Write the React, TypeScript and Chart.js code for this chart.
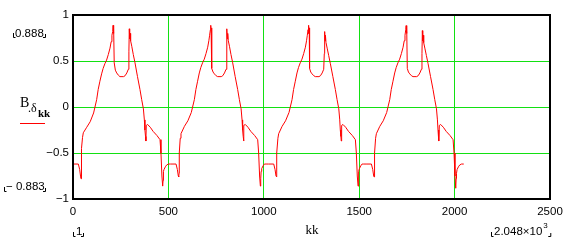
import React, { useEffect, useRef } from 'react';
import { Chart, registerables } from 'chart.js';

Chart.register(...registerables);

// ---- data (kk index, B value), one array pair per cycle ----
const kkCycle1 = [1,28,35,40,42,44,45,50,54,72,90,108,124,132,141,150,158,167,176,185,194,200,204,208,210,212,214,216,222,229,238,246,265,273,282,290,293,295,297,299,302,308,316,325,338,351,360,369,374,377,380,382,384,391,405,420,440,456,461,466,470,472,474,477,484,491,500];
const bCycle1 = [-0.62,-0.62,-0.68,-0.76,-0.78,-0.72,-0.45,-0.33,-0.28,-0.22,
  -0.16,-0.065,0.08,0.19,0.28,0.36,0.42,0.47,0.51,0.57,
  0.64,0.71,0.78,0.82,0.888,0.80,0.86,0.48,0.40,0.37,
  0.345,0.33,0.33,0.34,0.37,0.41,0.60,0.85,0.74,0.80,
  0.72,0.66,0.57,0.48,0.33,0.19,0.08,-0.02,-0.14,-0.25,
  -0.32,-0.37,-0.20,-0.19,-0.22,-0.265,-0.31,-0.355,-0.50,-0.75,
  -0.86,-0.80,-0.70,-0.68,-0.65,-0.63,-0.62];

const kkCycle2 = [512,540,547,552,554,556,557,562,566,584,602,620,636,644,653,662,670,679,688,697,706,712,716,720,722,724,726,728,734,741,750,758,777,785,794,802,805,807,809,811,814,820,828,837,850,863,872,881,886,889,892,894,896,903,917,932,952,968,973,978,982,984,986,989,996,1003,1012];
const bCycle2 = [-0.62,-0.62,-0.68,-0.75,-0.76,-0.72,-0.50,-0.34,-0.29,-0.21,
  -0.15,-0.06,0.08,0.19,0.28,0.37,0.43,0.48,0.52,0.58,
  0.65,0.72,0.78,0.84,0.888,0.80,0.86,0.42,0.38,0.36,
  0.34,0.33,0.33,0.34,0.37,0.41,0.60,0.85,0.74,0.80,
  0.72,0.66,0.57,0.48,0.33,0.19,0.08,-0.02,-0.14,-0.25,
  -0.32,-0.37,-0.20,-0.19,-0.22,-0.265,-0.31,-0.355,-0.50,-0.75,
  -0.86,-0.78,-0.70,-0.67,-0.64,-0.62,-0.62];

const kkCycle3 = [1024,1052,1059,1064,1066,1068,1069,1074,1078,1096,1114,1132,1148,1156,1165,1174,1182,1191,1200,1209,1218,1224,1228,1232,1234,1236,1238,1240,1246,1253,1262,1270,1289,1297,1306,1314,1317,1319,1321,1323,1326,1332,1340,1349,1362,1375,1384,1393,1398,1401,1404,1406,1408,1415,1429,1444,1464,1480,1485,1490,1494,1496,1498,1501,1508,1515,1524];
const bCycle3 = [-0.62,-0.62,-0.68,-0.75,-0.76,-0.72,-0.50,-0.34,-0.29,-0.21,
  -0.15,-0.06,0.08,0.19,0.28,0.37,0.43,0.48,0.52,0.58,
  0.65,0.72,0.78,0.84,0.888,0.80,0.86,0.42,0.38,0.36,
  0.34,0.33,0.33,0.34,0.37,0.41,0.58,0.82,0.72,0.78,
  0.70,0.64,0.56,0.47,0.33,0.19,0.08,-0.02,-0.14,-0.25,
  -0.32,-0.37,-0.20,-0.19,-0.22,-0.265,-0.31,-0.355,-0.50,-0.75,
  -0.86,-0.78,-0.70,-0.67,-0.64,-0.62,-0.62];

const kkCycle4 = [1536,1564,1571,1576,1578,1580,1581,1586,1590,1608,1626,1644,1660,1668,1677,1686,1694,1703,1712,1721,1730,1736,1740,1744,1746,1748,1750,1752,1758,1765,1774,1782,1801,1809,1818,1826,1829,1831,1833,1835,1838,1844,1852,1861,1874,1887,1896,1905,1910,1913,1916,1918,1920,1927,1941,1956,1976,1992,1997,2002,2006,2008,2010,2013,2020,2027,2036,2048];
const bCycle4 = [-0.62,-0.62,-0.68,-0.75,-0.76,-0.72,-0.50,-0.34,-0.29,-0.21,
  -0.15,-0.06,0.08,0.19,0.28,0.37,0.43,0.48,0.52,0.58,
  0.65,0.72,0.78,0.84,0.885,0.80,0.86,0.42,0.38,0.36,
  0.34,0.33,0.33,0.34,0.37,0.41,0.58,0.83,0.72,0.78,
  0.70,0.64,0.56,0.47,0.33,0.19,0.08,-0.02,-0.14,-0.25,
  -0.32,-0.37,-0.20,-0.19,-0.22,-0.265,-0.31,-0.355,-0.50,-0.75,
  -0.883,-0.78,-0.72,-0.68,-0.65,-0.63,-0.62,-0.62];

const xTickValues = [0, 500, 1000, 1500, 2000, 2500];
const yTickValues = [-1, -0.5, 0, 0.5, 1];

const yMaxLabel = '0.888';
const yMinLabel = '\u2212 0.883';
const xMinLabel = '1';
const xMaxLabelMantissa = '2.048\u00d710';
const xMaxLabelExponent = '3';
const xTitle = 'kk';

const GRID = '#12e012';
const TICK_FONT = '"Liberation Sans", Arial, sans-serif';
const SERIF = '"Liberation Serif", "Times New Roman", serif';

function corners(ctx: CanvasRenderingContext2D, xl: number, xr: number, yb: number) {
  ctx.save();
  ctx.strokeStyle = '#000';
  ctx.lineWidth = 1;
  ctx.beginPath();
  ctx.moveTo(xl + 0.5, yb - 4);
  ctx.lineTo(xl + 0.5, yb + 0.5);
  ctx.lineTo(xl + 2.5, yb + 0.5);
  ctx.moveTo(xr - 2, yb + 0.5);
  ctx.lineTo(xr + 0.5, yb + 0.5);
  ctx.lineTo(xr + 0.5, yb - 3);
  ctx.stroke();
  ctx.restore();
}

const annotations = {
  id: 'mathcadAnnotations',
  afterDraw(chart: any) {
    const { ctx, chartArea } = chart;
    const { left, right, top, bottom } = chartArea;
    ctx.save();
    // frame
    ctx.strokeStyle = '#000';
    ctx.lineWidth = 2;
    ctx.strokeRect(left, top, right - left, bottom - top);

    ctx.fillStyle = '#000';
    ctx.textBaseline = 'alphabetic';
    ctx.textAlign = 'left';
    ctx.font = `11.5px ${TICK_FONT}`;
    // y data max / min
    ctx.fillText(yMaxLabel, 15, 37);
    corners(ctx, 13, 45, 37);
    ctx.fillText(yMinLabel, 6, 190);
    corners(ctx, 4, 45, 191);

    // x data min / max
    ctx.fillText(xMinLabel, 76, 235);
    corners(ctx, 73, 83, 236);
    ctx.fillText(xMaxLabelMantissa, 494, 235);
    const w = ctx.measureText(xMaxLabelMantissa).width;
    ctx.font = `8px ${TICK_FONT}`;
    ctx.fillText(xMaxLabelExponent, 494 + w + 1, 228);
    corners(ctx, 491, 494 + w + 8, 236);

    // x title
    ctx.font = `13px ${SERIF}`;
    ctx.textAlign = 'center';
    ctx.fillText(xTitle, 312, 234);

    // y legend label B.δkk with red line
    ctx.textAlign = 'left';
    ctx.font = `14px ${SERIF}`;
    ctx.fillText('B', 20, 107);
    ctx.font = `12px ${SERIF}`;
    ctx.fillText('.\u03b4', 28, 112);
    ctx.font = `bold 11px ${SERIF}`;
    ctx.fillText('kk', 38, 117);
    ctx.strokeStyle = '#ff0000';
    ctx.lineWidth = 1;
    ctx.beginPath();
    ctx.moveTo(20, 123.5);
    ctx.lineTo(45, 123.5);
    ctx.stroke();
    ctx.restore();
  },
};

export default function App() {
  const ref = useRef<HTMLCanvasElement>(null);
  useEffect(() => {
    const canvas = ref.current!;
    const kk = [...kkCycle1, ...kkCycle2, ...kkCycle3, ...kkCycle4];
    const b = [...bCycle1, ...bCycle2, ...bCycle3, ...bCycle4];
    const points = kk.map((x, i) => ({ x, y: b[i] }));
    const chart = new Chart(canvas, {
      type: 'line',
      data: {
        datasets: [
          {
            data: points,
            borderColor: '#ff0000',
            borderWidth: 1,
            pointRadius: 0,
            tension: 0,
            fill: false,
          },
        ],
      },
      options: {
        animation: false,
        responsive: false,
        events: [],
        layout: { padding: { left: 0, right: 24, top: 15, bottom: 0 } },
        plugins: { legend: { display: false }, tooltip: { enabled: false } },
        scales: {
          x: {
            type: 'linear',
            min: 0,
            max: 2500,
            afterBuildTicks: (s: any) => {
              s.ticks = xTickValues.map((v) => ({ value: v }));
            },
            afterFit: (s: any) => {
              s.height = 52;
            },
            grid: { color: GRID, lineWidth: 1, drawTicks: false },
            border: { display: false },
            ticks: {
              padding: 6,
              color: '#000',
              maxRotation: 0,
              autoSkip: false,
              font: { family: TICK_FONT, size: 11.5 },
              callback: (v: any) => String(v),
            },
          },
          y: {
            type: 'linear',
            min: -1,
            max: 1,
            afterBuildTicks: (s: any) => {
              s.ticks = yTickValues.map((v) => ({ value: v }));
            },
            afterFit: (s: any) => {
              s.width = 73;
            },
            grid: { color: GRID, lineWidth: 1, drawTicks: false },
            border: { display: false },
            ticks: {
              padding: 4,
              color: '#000',
              font: { family: TICK_FONT, size: 11.5 },
              callback: (v: any) => (v < 0 ? '\u2212' + String(-v) : String(v)),
            },
          },
        },
      },
      plugins: [annotations],
    });
    return () => chart.destroy();
  }, []);
  return (
    <div style={{ position: 'absolute', left: 0, top: 0, width: 574, height: 251, background: '#fff' }}>
      <canvas ref={ref} width={574} height={251} style={{ display: 'block', width: 574, height: 251 }} />
    </div>
  );
}
